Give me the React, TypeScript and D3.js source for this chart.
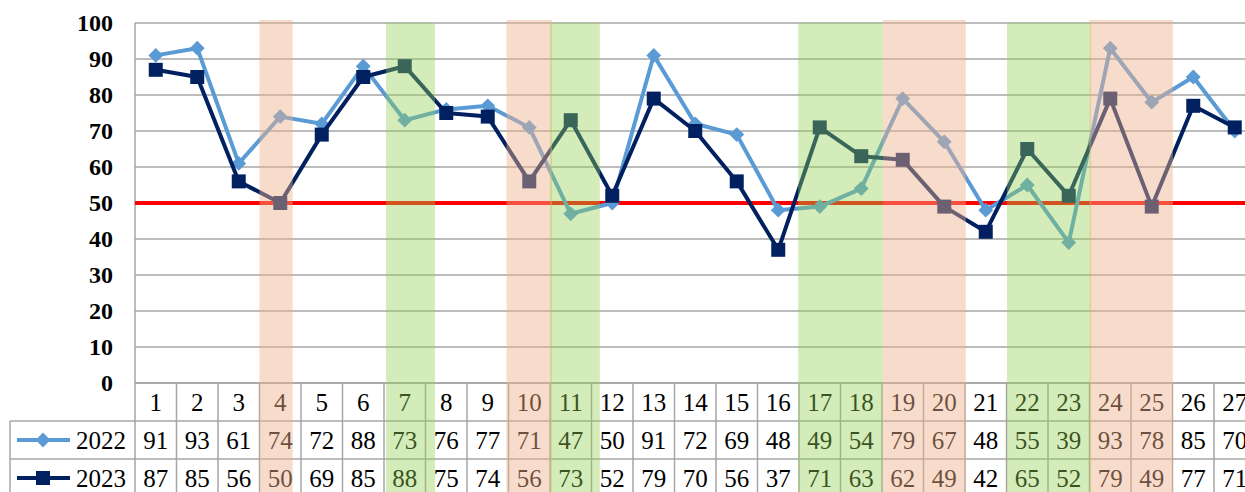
import React from 'react';
import * as d3 from 'd3';

const categories = Array.from({ length: 27 }, (_, i) => String(i + 1));
const series2022 = [91, 93, 61, 74, 72, 88, 73, 76, 77, 71, 47, 50, 91, 72, 69, 48, 49, 54, 79, 67, 48, 55, 39, 93, 78, 85, 70];
const series2023 = [87, 85, 56, 50, 69, 85, 88, 75, 74, 56, 73, 52, 79, 70, 56, 37, 71, 63, 62, 49, 42, 65, 52, 79, 49, 77, 71];
const yTicks = [0, 10, 20, 30, 40, 50, 60, 70, 80, 90, 100];
const threshold = 50;

// highlighted spans, in category units (0 = left edge of "1")
const bandStart = [3.0, 6.05, 8.95, 10.0, 15.98, 18.02, 21.01, 23.0];
const bandEnd = [3.8, 7.23, 10.05, 11.2, 18.02, 20.02, 23.04, 25.01];
const bandKind = ['orange', 'green', 'orange', 'green', 'green', 'orange', 'green', 'orange'];

const W = 1245;
const H = 492;
const plotLeft = 135;
const colW = 41.5;
const row1 = 383;
const row2 = 421;
const row3 = 459;
const rowEnd = 497;
const legendLeft = 10;
const font = '"Liberation Serif", "Times New Roman", serif';

export default function App() {
  const x = d3.scaleLinear().domain([0, categories.length]).range([plotLeft, plotLeft + colW * categories.length]);
  const y = d3.scaleLinear().domain([0, 100]).range([383, 23]);
  const cx = (i: number) => x(i + 0.5);

  const line = d3.line<number>().x((_, i) => cx(i)).y(d => y(d));
  const diamond = d3.symbol(d3.symbolSquare, 110)();
  const square = d3.symbol(d3.symbolSquare, 196)();
  const c22 = '#5b9bd5';
  const c23 = '#002060';
  const grid = '#a6a6a6';
  const plotRight = x(categories.length);

  return (
    <div style={{ position: 'absolute', left: 0, top: 0 }}>
      <svg width={W} height={H} style={{ display: 'block', background: '#fff' }}>
        {/* gridlines */}
        {yTicks.map(t => (
          <line key={t} x1={plotLeft} x2={plotRight} y1={y(t)} y2={y(t)} stroke={grid} strokeWidth={1.5} />
        ))}
        <line x1={plotLeft} x2={plotLeft} y1={y(100)} y2={H} stroke={grid} strokeWidth={1.5} />
        {yTicks.map(t => (
          <text key={t} x={113} y={y(t)} dy="0.35em" textAnchor="end" fontFamily={font} fontWeight="bold" fontSize={24} fill="#000">
            {t}
          </text>
        ))}

        {/* threshold */}
        <line x1={plotLeft} x2={plotRight} y1={y(threshold)} y2={y(threshold)} stroke="#ff0000" strokeWidth={4} />

        {/* series */}
        <path d={line(series2022) || ''} fill="none" stroke={c22} strokeWidth={4} strokeLinejoin="round" />
        {series2022.map((v, i) => (
          <path key={i} d={diamond || ''} transform={`translate(${cx(i)},${y(v)}) rotate(45)`} fill={c22} />
        ))}
        <path d={line(series2023) || ''} fill="none" stroke={c23} strokeWidth={4} strokeLinejoin="round" />
        {series2023.map((v, i) => (
          <path key={i} d={square || ''} transform={`translate(${cx(i)},${y(v)})`} fill={c23} />
        ))}

        {/* data table */}
        <line x1={plotLeft} x2={plotRight} y1={row1} y2={row1} stroke={grid} strokeWidth={1.5} />
        <line x1={legendLeft} x2={plotRight} y1={row2} y2={row2} stroke={grid} strokeWidth={1.5} />
        <line x1={legendLeft} x2={plotRight} y1={row3} y2={row3} stroke={grid} strokeWidth={1.5} />
        <line x1={legendLeft} x2={legendLeft} y1={row2} y2={H} stroke={grid} strokeWidth={1.5} />
        {categories.map((_, i) => (
          <line key={i} x1={x(i + 1)} x2={x(i + 1)} y1={row1} y2={H} stroke={grid} strokeWidth={1.5} />
        ))}
        {categories.map((c, i) => (
          <text key={c} x={cx(i)} y={(row1 + row2) / 2} dy="0.35em" textAnchor="middle" fontFamily={font} fontSize={25} fill="#000">
            {c}
          </text>
        ))}
        {series2022.map((v, i) => (
          <text key={i} x={cx(i)} y={(row2 + row3) / 2} dy="0.35em" textAnchor="middle" fontFamily={font} fontSize={25} fill="#000">
            {v}
          </text>
        ))}
        {series2023.map((v, i) => (
          <text key={i} x={cx(i)} y={(row3 + rowEnd) / 2} dy="0.35em" textAnchor="middle" fontFamily={font} fontSize={25} fill="#000">
            {v}
          </text>
        ))}

        {/* legend keys */}
        <line x1={17} x2={70} y1={(row2 + row3) / 2} y2={(row2 + row3) / 2} stroke={c22} strokeWidth={4} />
        <path d={diamond || ''} transform={`translate(43,${(row2 + row3) / 2}) rotate(45)`} fill={c22} />
        <text x={76} y={(row2 + row3) / 2} dy="0.35em" fontFamily={font} fontSize={25} fill="#000">2022</text>
        <line x1={17} x2={70} y1={(row3 + rowEnd) / 2} y2={(row3 + rowEnd) / 2} stroke={c23} strokeWidth={4} />
        <path d={square || ''} transform={`translate(43,${(row3 + rowEnd) / 2})`} fill={c23} />
        <text x={76} y={(row3 + rowEnd) / 2} dy="0.35em" fontFamily={font} fontSize={25} fill="#000">2023</text>

        {/* translucent highlight bands on top */}
        {bandStart.map((s, i) => {
          const orange = bandKind[i] === 'orange';
          const top = orange ? y(100) - 3 : y(100);
          return (
            <rect
              key={i}
              x={x(s)}
              y={top}
              width={x(bandEnd[i]) - x(s)}
              height={H - top}
              fill={orange ? '#f0b28c' : '#92d050'}
              fillOpacity={orange ? 0.45 : 0.4}
            />
          );
        })}
      </svg>
    </div>
  );
}
